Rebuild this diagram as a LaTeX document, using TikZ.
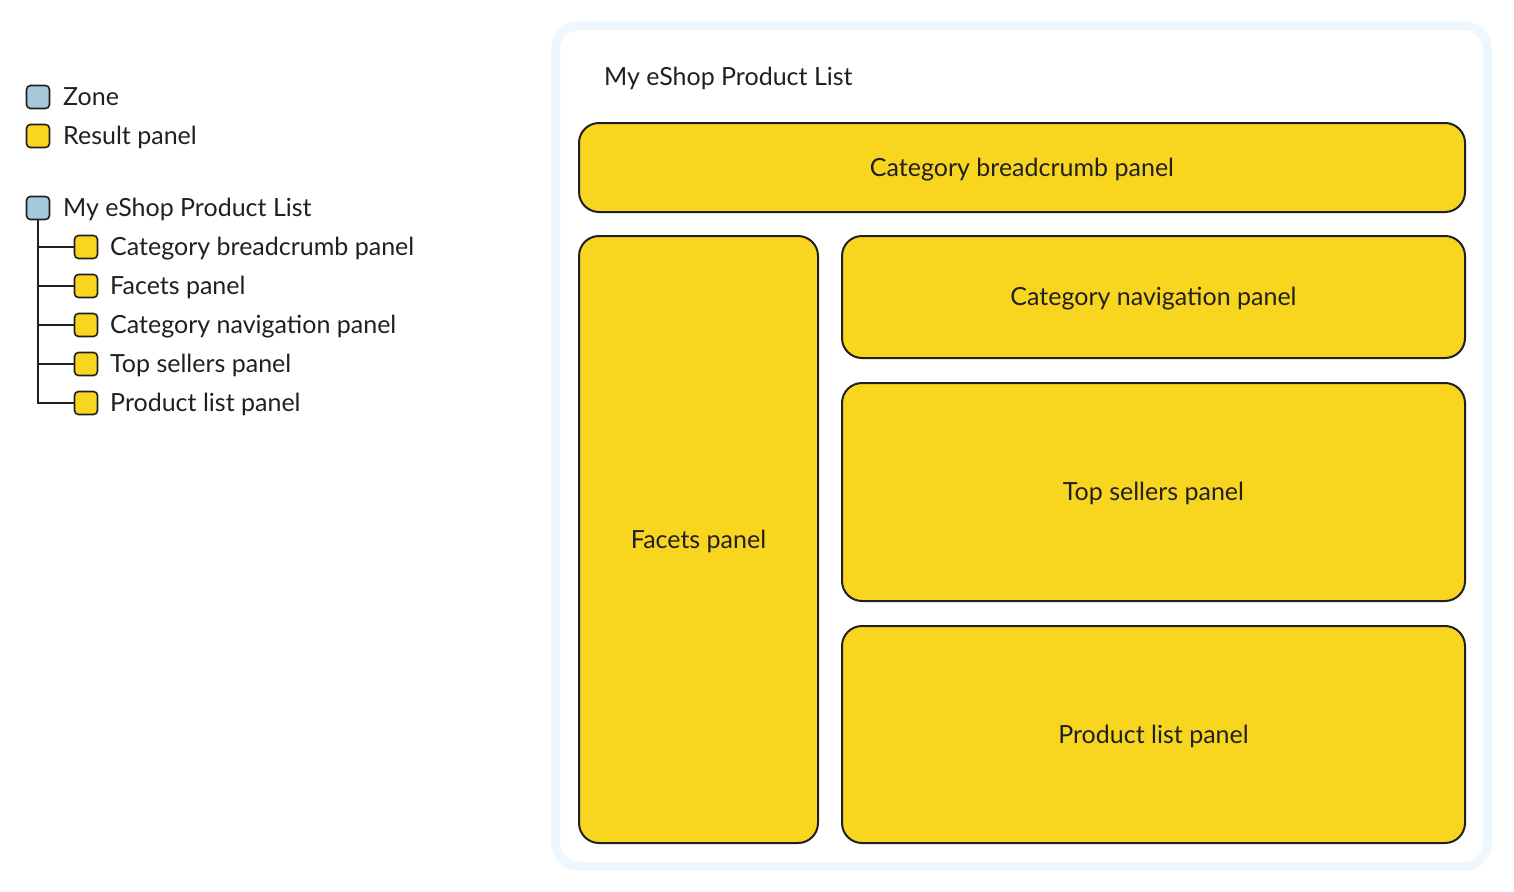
\documentclass[tikz,border=0pt]{standalone}
\usepackage{fontspec}
\setmainfont{Lato}
\definecolor{ylw}{RGB}{248,214,31}
\definecolor{zoneblue}{RGB}{165,200,218}
\definecolor{edge}{RGB}{34,31,32}
\definecolor{frame}{RGB}{238,247,253}
\tikzset{
  panel/.style={draw=edge, fill=ylw, line width=2pt, rounded corners=20pt, font=\fontsize{25}{30}\selectfont, text=edge, text height=18pt, text depth=1pt},
  legbox/.style={draw=edge, line width=1.6pt, rounded corners=4pt, minimum size=23pt, inner sep=0pt},
  zonebox/.style={legbox, fill=zoneblue},
  resbox/.style={legbox, fill=ylw},
  legtext/.style={anchor=base west, inner sep=0pt, font=\fontsize{25}{30}\selectfont, text=edge},
  treeline/.style={draw=edge, line width=1.4pt}
}
\begin{document}
\begin{tikzpicture}[x=1pt,y=-1pt]
\useasboundingbox (0,0) rectangle (1514,891);
% legend
\node[zonebox] (lz) at (38,97) {};
\node[legtext] (lzt) at (63,105.5) {Zone};
\node[resbox] (lr) at (38,136) {};
\node[legtext] (lrt) at (63,144.5) {Result panel};
% tree
\node[zonebox] (t0) at (38,208) {};
\node[legtext] (t0t) at (63,216.5) {My eShop Product List};
\node[resbox] (t1) at (86,247) {};
\node[legtext] (t1t) at (110,255.5) {Category breadcrumb panel};
\node[resbox] (t2) at (86,286) {};
\node[legtext] (t2t) at (110,294.5) {Facets panel};
\node[resbox] (t3) at (86,325) {};
\node[legtext] (t3t) at (110,333.5) {Category navigation panel};
\node[resbox] (t4) at (86,364) {};
\node[legtext] (t4t) at (110,372.5) {Top sellers panel};
\node[resbox] (t5) at (86,403) {};
\node[legtext] (t5t) at (110,411.5) {Product list panel};
\draw[treeline] (t0.south) |- (t5.west);
\foreach \i in {1,2,3,4}{
  \draw[treeline] (t0.south |- t\i.west) -- (t\i.west);
}
% container
\draw[draw=frame, line width=9pt, fill=white, rounded corners=24pt] (555.5,25.5) rectangle (1487.5,866.5);
\node[legtext] (title) at (604,85.5) {My eShop Product List};
\node[panel, minimum width=886pt, minimum height=89pt] (cb) at (1022,167.5) {Category breadcrumb panel};
\node[panel, minimum width=239pt, minimum height=607pt] (fp) at (698.5,539.5) {Facets panel};
\node[panel, minimum width=623pt, minimum height=122pt] (cn) at (1153.5,297) {Category navigation panel};
\node[panel, minimum width=623pt, minimum height=218pt] (ts) at (1153.5,492) {Top sellers panel};
\node[panel, minimum width=623pt, minimum height=217pt] (pl) at (1153.5,734.5) {Product list panel};
\end{tikzpicture}
\end{document}
